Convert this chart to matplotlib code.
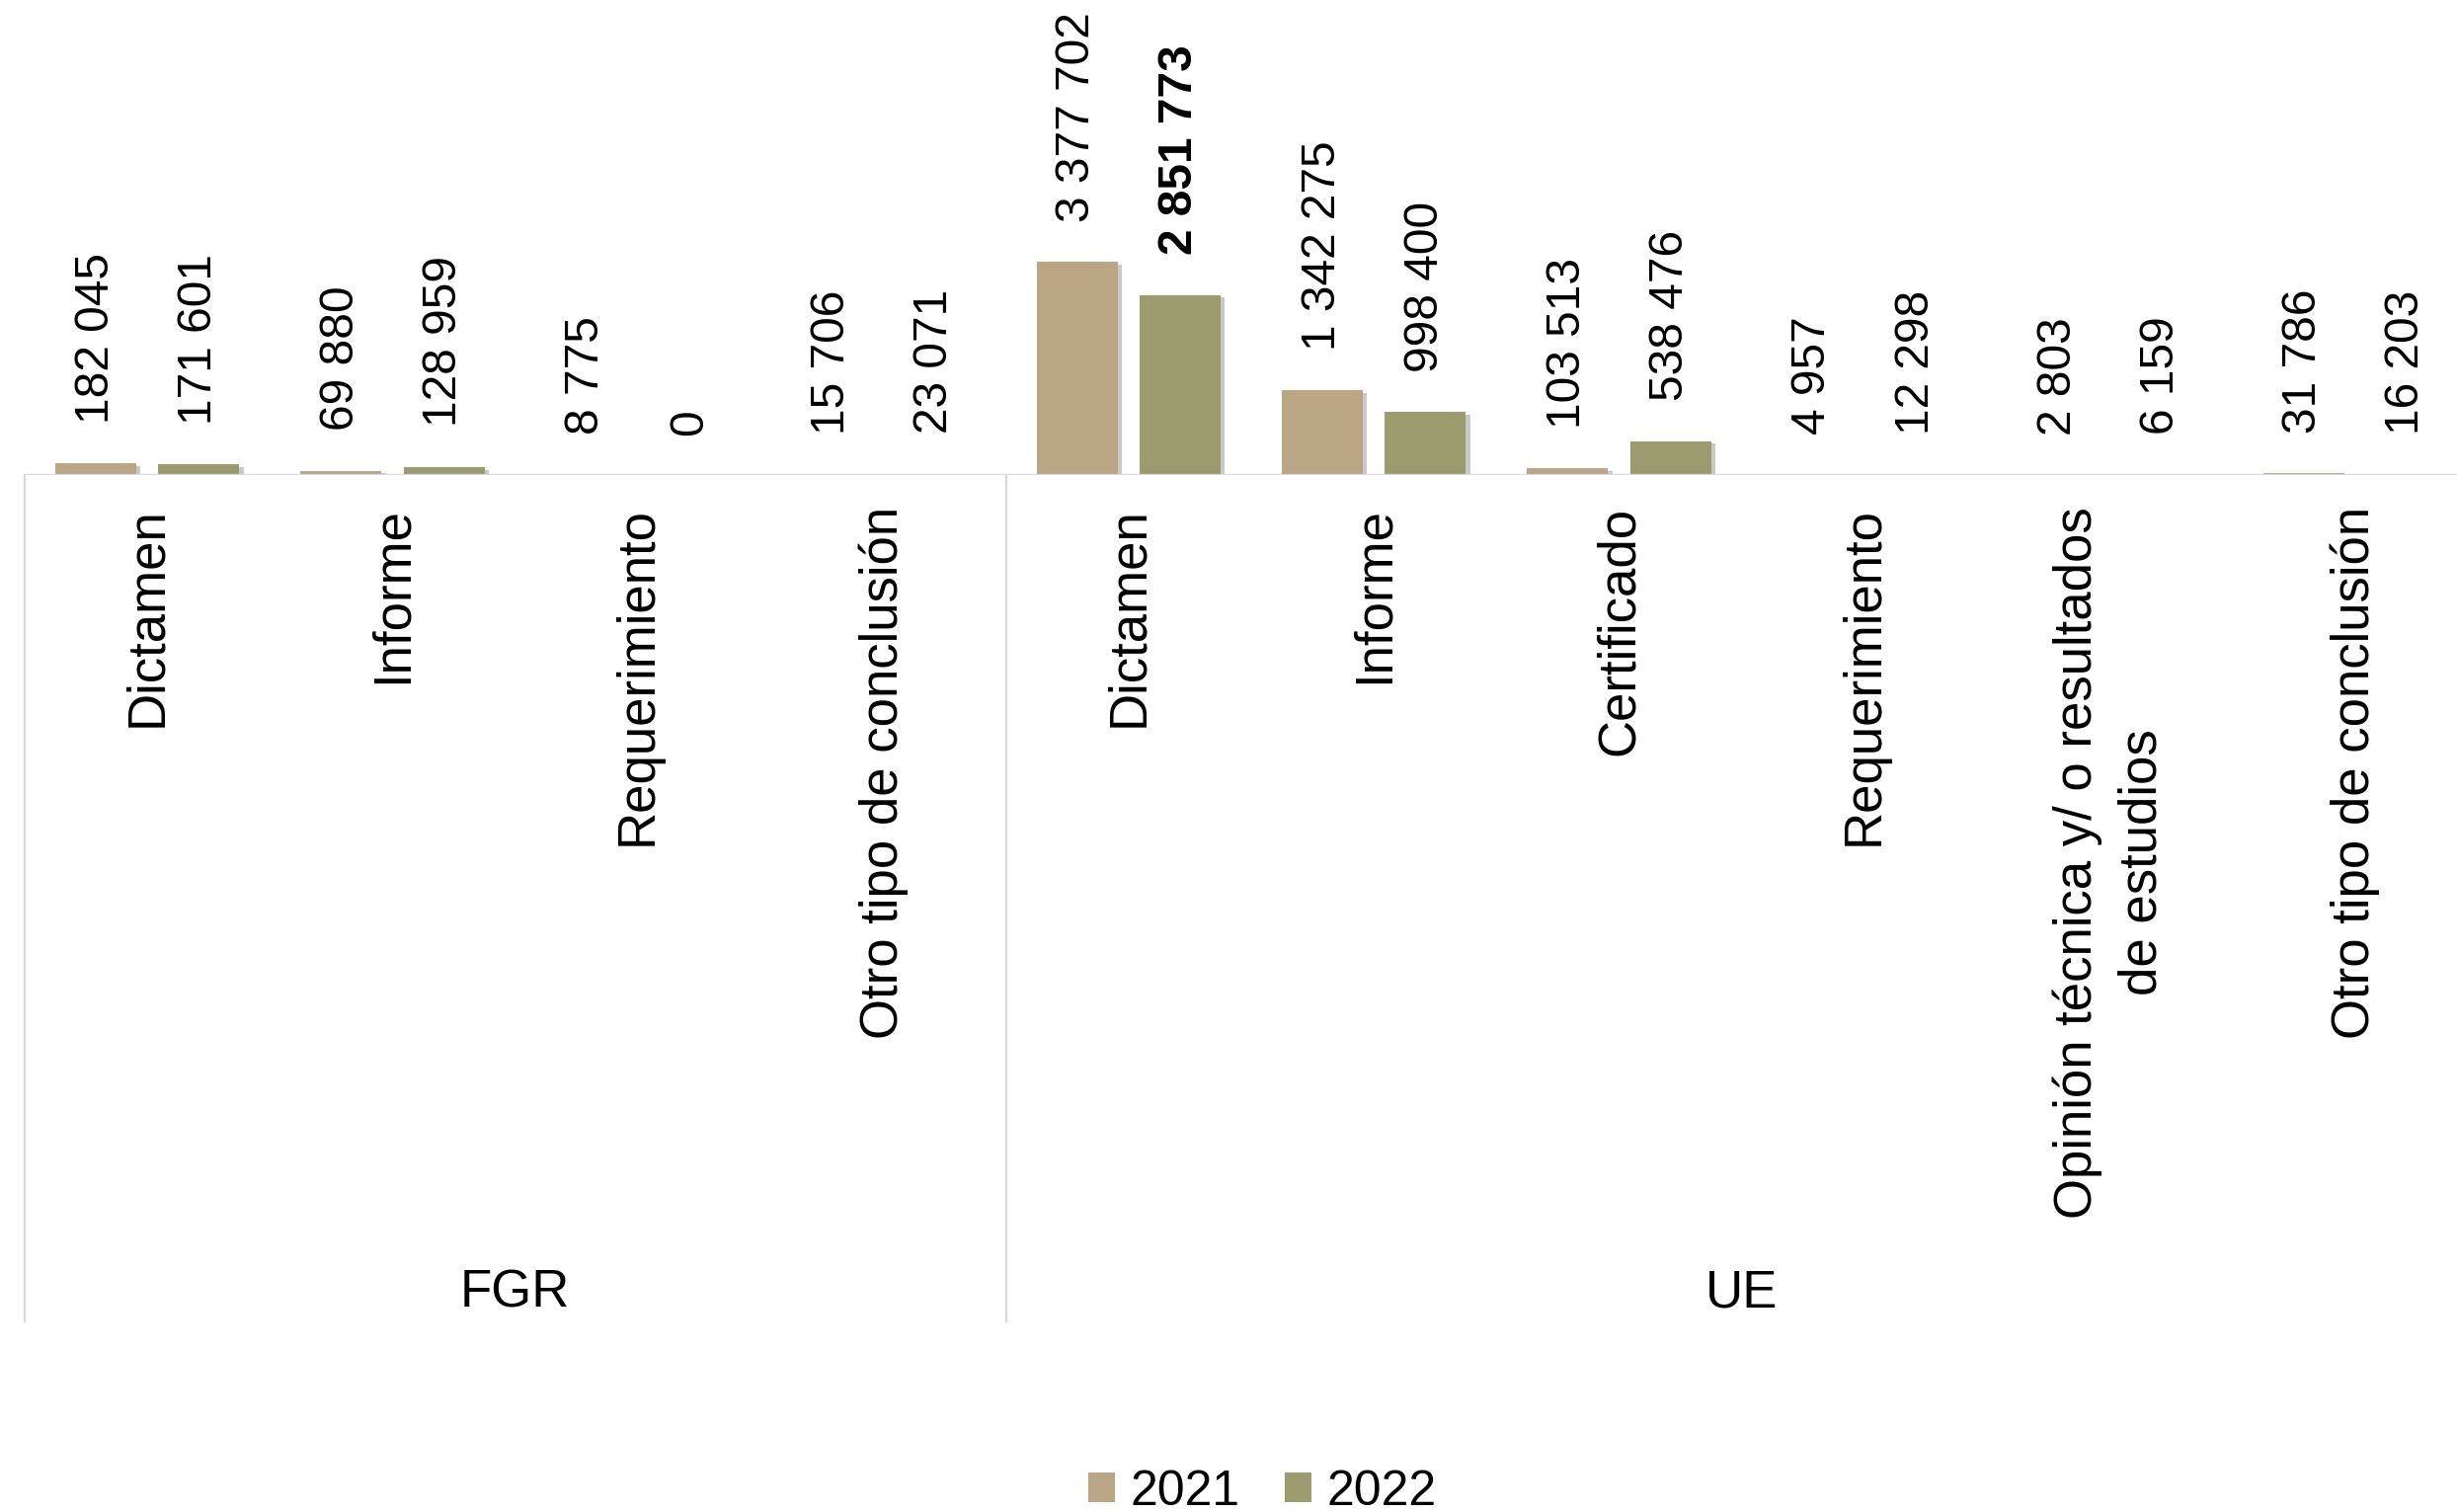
import matplotlib
matplotlib.use("Agg")
import matplotlib.pyplot as plt
import matplotlib.patheffects as pe
from matplotlib.lines import Line2D
from matplotlib.transforms import blended_transform_factory
from matplotlib.patches import Patch

plt.rcParams['font.family'] = ['Liberation Sans', 'DejaVu Sans']

# ---- data ----
categories = ["Dictamen", "Informe", "Requerimiento", "Otro tipo de conclusión",
              "Dictamen", "Informe", "Certificado", "Requerimiento",
              "Opinión técnica y/ o resultados\nde estudios", "Otro tipo de conclusión"]
groups = ["FGR", "UE"]
group_sizes = [4, 6]
series_names = ["2021", "2022"]
values_2021 = [182045, 69880, 8775, 15706, 3377702, 1342275, 103513, 4957, 2803, 31786]
values_2022 = [171601, 128959, 0, 23071, 2851773, 998400, 538476, 12298, 6159, 16203]
bold_labels_2022 = [False, False, False, False, True, False, False, False, False, False]

colors = ["#BAA585", "#9B9B6D"]

W, H = 2488, 1531
fig = plt.figure(figsize=(W / 100, H / 100), dpi=100)

base_px = 481
left_px = 25
cat_px = 248.4
n = len(categories)
ax = fig.add_axes([left_px / W, 1 - base_px / H, n * cat_px / W, base_px / H])
ax.set_xlim(-0.5, n - 0.5)
ax.set_ylim(0, 7.52e6)
ax.axis('off')

xs = list(range(n))
bw = 0.33
off = 0.21
shadow = [pe.SimplePatchShadow(offset=(3, -2), shadow_rgbFace="#7a7a7a", alpha=0.4), pe.Normal()]

b1 = ax.bar([x - off for x in xs], values_2021, width=bw, color=colors[0], zorder=3)
b2 = ax.bar([x + off for x in xs], values_2022, width=bw, color=colors[1], zorder=3)
for b in list(b1) + list(b2):
    b.set_path_effects(shadow)

ax.axhline(0, color="#D9D9D9", lw=1.6, zorder=4, xmin=0, xmax=1)

def fmt(v):
    return f"{v:,}".replace(",", " ")

for x, v in zip(xs, values_2021):
    ax.annotate(fmt(v), (x - off, v), xytext=(0, 29), textcoords='offset points',
                rotation=90, ha='center', va='bottom', fontsize=34.5)
for x, v, bld in zip(xs, values_2022, bold_labels_2022):
    ax.annotate(fmt(v), (x + off, v), xytext=(0, 29), textcoords='offset points',
                rotation=90, ha='center', va='bottom', fontsize=34.5,
                fontweight='bold' if bld else 'normal')

tr = blended_transform_factory(ax.transData, fig.transFigure)
for x, c in zip(xs, categories):
    ax.text(x, 1 - 513 / H, c, transform=tr, rotation=90, ha='center', va='top',
            fontsize=38, multialignment='center', linespacing=1.4)

# group separators and labels
start = -0.5
bounds = [start]
for s in group_sizes:
    bounds.append(bounds[-1] + s)
for bx in bounds:
    fig.add_artist(Line2D([bx, bx], [1 - base_px / H, 1 - 1338 / H], transform=tr,
                          color="#D9D9D9", lw=1.6))
for i, g in enumerate(groups):
    cx = (bounds[i] + bounds[i + 1]) / 2
    ax.text(cx, 1 - 1309 / H, g, transform=tr, ha='center', va='center', fontsize=38)

handles = [Patch(facecolor=colors[0]), Patch(facecolor=colors[1])]
fig.legend(handles, series_names, loc='center', bbox_to_anchor=(1278 / W, 1 - 1511 / H),
           ncol=2, frameon=False, fontsize=36, handlelength=0.55, handleheight=0.55,
           handletextpad=0.3, columnspacing=0.9, borderpad=0)

fig.savefig("out.png", dpi=100)
